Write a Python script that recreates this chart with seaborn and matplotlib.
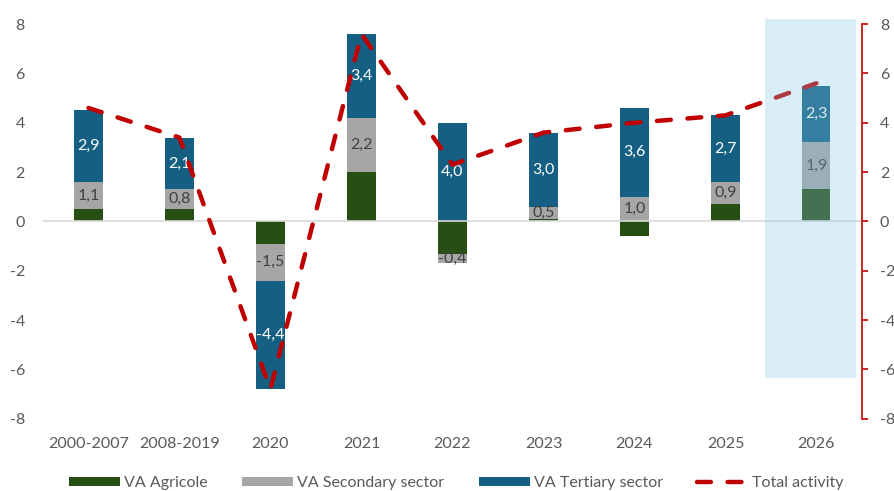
import numpy as np
import pandas as pd
import matplotlib
matplotlib.use("Agg")
import matplotlib.pyplot as plt
from matplotlib.patches import Rectangle, Patch
from matplotlib.lines import Line2D
import seaborn as sns

# ---- data -------------------------------------------------------------
periods = ["2000-2007", "2008-2019", "2020", "2021", "2022",
           "2023", "2024", "2025", "2026"]
va_agricole = [0.5, 0.5, -0.9, 2.0, -1.3, 0.1, -0.6, 0.7, 1.3]
va_secondary = [1.1, 0.8, -1.5, 2.2, -0.4, 0.5, 1.0, 0.9, 1.9]
va_tertiary = [2.9, 2.1, -4.4, 3.4, 4.0, 3.0, 3.6, 2.7, 2.3]
total_activity = [4.6, 3.4, -6.8, 7.6, 2.3, 3.6, 4.0, 4.3, 5.6]

series_names = ["VA Agricole", "VA Secondary sector", "VA Tertiary sector"]
series_values = [va_agricole, va_secondary, va_tertiary]
series_colors = ["#274E13", "#A6A6A6", "#156082"]
label_colors = [None, "#404040", "#FFFFFF"]
line_name = "Total activity"
line_color = "#C00000"
text_color = "#595959"

# ---- style ------------------------------------------------------------
sns.set_theme(style="white")
plt.rcParams["font.family"] = ["Lato", "DejaVu Sans"]
plt.rcParams["lines.scale_dashes"] = False
plt.rcParams["axes.unicode_minus"] = False
FS = 11.5

fig = plt.figure(figsize=(8.95, 4.91), dpi=100)
ax = fig.add_axes([0.048, 0.147, 0.915, 0.804])

# ---- stacked bars (positive and negative parts stacked separately) ----
vals = np.array(series_values)
pos_cum = np.cumsum(np.clip(vals, 0, None), axis=0)
neg_cum = np.cumsum(np.clip(vals, None, 0), axis=0)
bar_w = 0.31

for cum in (pos_cum, neg_cum):
    # draw outermost level first, inner levels on top of it
    for k in range(len(series_values) - 1, -1, -1):
        df = pd.DataFrame({"period": periods, "value": cum[k]})
        sns.barplot(data=df, x="period", y="value", order=periods,
                    color=series_colors[k], saturation=1, width=bar_w,
                    edgecolor="none", linewidth=0, ax=ax, zorder=1)

# value labels in the middle of the secondary and tertiary segments
for k in (1, 2):
    for i, v in enumerate(vals[k]):
        if v >= 0:
            lo = pos_cum[k][i] - v
        else:
            lo = neg_cum[k][i] - v
        mid = lo + v / 2
        ax.text(i, mid, f"{v:.1f}".replace(".", ","), ha="center",
                va="center", fontsize=FS, color=label_colors[k], zorder=3)

# zero reference line
ax.axhline(0, color="#D9D9D9", lw=1.2, zorder=2)

# ---- total activity line ----------------------------------------------
xpos = np.arange(len(periods))
sns.lineplot(x=xpos, y=total_activity, color=line_color, lw=3.2,
             linestyle=(0, (10, 12)), dash_capstyle="round", ax=ax,
             zorder=4, legend=False)

# ---- highlight of the forecast year -----------------------------------
last = len(periods) - 1
ax.add_patch(Rectangle((last - 0.566, -6.35), 1.0, 14.55,
                       facecolor="#84C6E4", alpha=0.3, edgecolor="none",
                       zorder=5, clip_on=False))

# ---- axes -------------------------------------------------------------
yticks = np.arange(-8, 9, 2)
ax.set_xlim(-0.5, len(periods) - 0.5)
ax.set_ylim(-8, 8)
ax.set_yticks(yticks)
ax.set_xlabel("")
ax.set_ylabel("")
for s in ax.spines.values():
    s.set_visible(False)
ax.tick_params(axis="y", length=0, pad=13, labelsize=FS, labelcolor=text_color)
ax.tick_params(axis="x", length=0, pad=13, labelsize=FS, labelcolor=text_color)

ax2 = ax.twinx()
ax2.set_ylim(-8, 8)
ax2.set_yticks(yticks)
for name, s in ax2.spines.items():
    s.set_visible(name == "right")
ax2.spines["right"].set_color(line_color)
ax2.spines["right"].set_linewidth(1.2)
ax2.tick_params(axis="y", length=4, width=1.2, color=line_color, pad=9,
                labelsize=FS, labelcolor=text_color)
ax2.grid(False)
ax.grid(False)

# ---- legend -----------------------------------------------------------
handles = [Patch(facecolor=c, edgecolor="none") for c in series_colors]
handles.append(Line2D([0], [0], color=line_color, lw=3.2,
                      linestyle=(0, (10, 12)), dash_capstyle="round"))
fig.legend(handles, series_names + [line_name], loc="center",
           bbox_to_anchor=(0.51, 0.016), ncol=4, frameon=False,
           fontsize=FS, labelcolor=text_color, handlelength=3.2,
           handleheight=0.5, handletextpad=0.25, columnspacing=2.15)

fig.savefig("out.png", dpi=100)
